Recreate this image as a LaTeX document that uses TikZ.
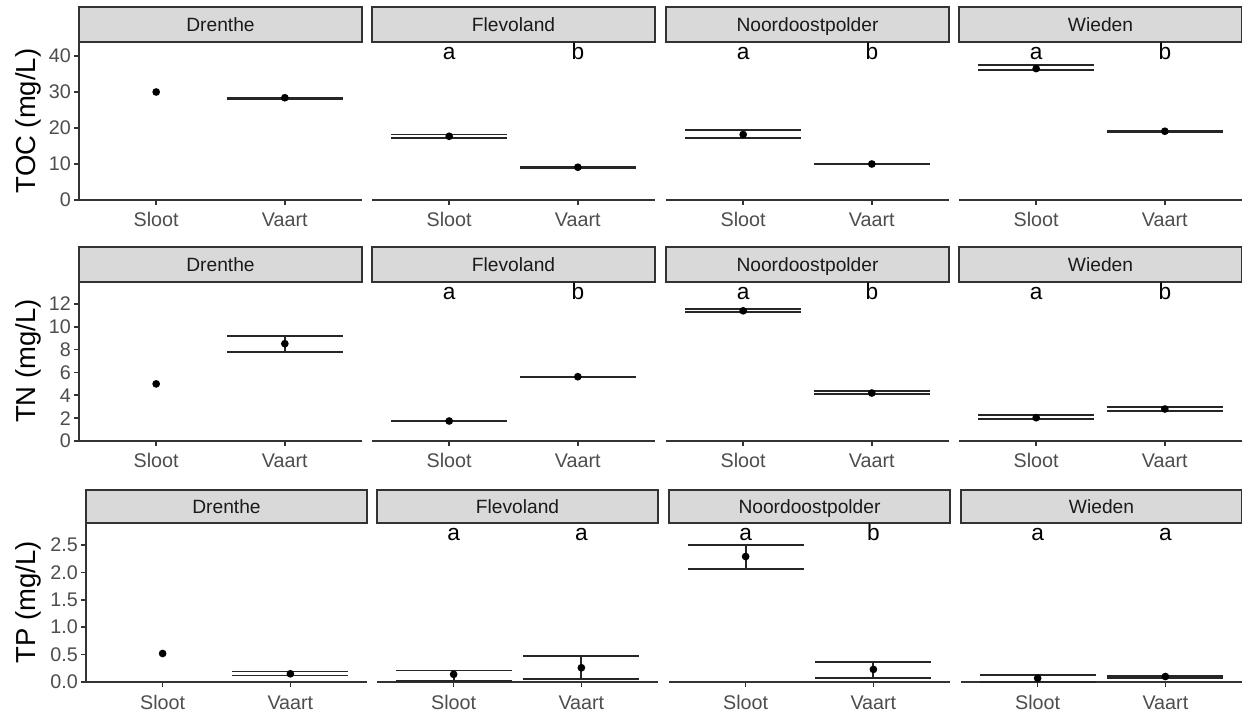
\documentclass[tikz,border=0pt]{standalone}
\usepackage{fontspec}
\setmainfont{Liberation Sans}
\definecolor{stripfill}{HTML}{D9D9D9}
\definecolor{stripline}{HTML}{333333}
\definecolor{axisgrey}{HTML}{333333}
\definecolor{ticktext}{HTML}{4D4D4D}
\definecolor{striptxt}{HTML}{1A1A1A}

% half width of an error bar (0.45 of one category step)
\newcommand\hw{58}
% error bar: #1 x centre, #2 axis y, #3 px per unit, #4 lower, #5 upper
\newcommand\ebar[5]{%
  \draw[errbar] ({#1-\hw},{#2-#3*#4}) -- ({#1+\hw},{#2-#3*#4});
  \draw[errbar] ({#1-\hw},{#2-#3*#5}) -- ({#1+\hw},{#2-#3*#5});
  \draw[errbar] ({#1},{#2-#3*#4}) -- ({#1},{#2-#3*#5});
}
% mean point: #1 x centre, #2 axis y, #3 px per unit, #4 value
\newcommand\mpt[4]{\fill[meanpt] ({#1},{#2-#3*#4}) circle[radius=2.9pt];}
% one facet: #1 name, #2 left x, #3 width, #4 strip top, #5 strip bottom, #6 axis y, #7 title
\newcommand\facet[7]{%
  \pgfmathsetmacro\xs{#2+0.2727*#3}%
  \pgfmathsetmacro\xv{#2+0.7273*#3}%
  \pgfmathsetmacro\xm{#2+0.5*#3}%
  \draw[stripbox] (#2,#4) rectangle ({#2+#3},#5);
  \node[striptext] (#1-strip) at (\xm,{(#4+#5)/2+7}) {#7};
  \draw[axisline] (#2,#6) -- ({#2+#3},#6);
  \draw[axisline] (\xs,#6) -- (\xs,{#6+5});
  \draw[axisline] (\xv,#6) -- (\xv,{#6+5});
  \node[xlab] (#1-sloot) at (\xs,{#6+27}) {Sloot};
  \node[xlab] (#1-vaart) at (\xv,{#6+27}) {Vaart};
}
% y axis: #1 x, #2 top, #3 axis y, #4 px per unit, #5 tick list
\newcommand\yaxis[5]{%
  \draw[axisline] (#1,#2) -- (#1,#3);
  \foreach \t in {#5} {
    \draw[axisline] ({#1-5},{#3-#4*\t}) -- (#1,{#3-#4*\t});
    \node[ylab] (ytick) at ({#1-8},{#3-#4*\t}) {\t};
  }
}

\begin{document}
\begin{tikzpicture}[x=0.75pt,y=-0.75pt,
  stripbox/.style={fill=stripfill,draw=stripline,line width=1.3pt},
  striptext/.style={anchor=base,text=striptxt,font=\fontsize{14.4pt}{16pt}\selectfont},
  axisline/.style={draw=axisgrey,line width=1.25pt},
  xlab/.style={anchor=base,text=ticktext,font=\fontsize{14.8pt}{16pt}\selectfont},
  ylab/.style={anchor=east,text=ticktext,font=\fontsize{14.8pt}{16pt}\selectfont,inner sep=0pt},
  ytitle/.style={anchor=base,rotate=90,font=\fontsize{20.6pt}{24pt}\selectfont},
  sig/.style={anchor=base,font=\fontsize{17pt}{20pt}\selectfont},
  errbar/.style={draw=black!85,line width=1.35pt},
  meanpt/.style={fill=black}]
\useasboundingbox[fill=white] (0,0) rectangle (1242,712);

% ---------------- TOC ----------------
\node[ytitle] (toc) at (35,121) {TOC (mg/L)};
\yaxis{79}{42}{200}{3.6}{0,10,20,30,40}

\facet{tocD}{79}{283}{7}{42}{200}{Drenthe}
\mpt{\xs}{200}{3.6}{30}
\ebar{\xv}{200}{3.6}{28.15}{28.45}\mpt{\xv}{200}{3.6}{28.4}

\facet{tocF}{372}{283}{7}{42}{200}{Flevoland}
\ebar{\xs}{200}{3.6}{17.2}{18.2}\mpt{\xs}{200}{3.6}{17.7}
\ebar{\xv}{200}{3.6}{8.95}{9.25}\mpt{\xv}{200}{3.6}{9.1}
\node[sig] (tocFa) at (\xs,60) {a};
\node[sig] (tocFb) at (\xv,60) {b};

\facet{tocN}{666}{283}{7}{42}{200}{Noordoostpolder}
\ebar{\xs}{200}{3.6}{17.2}{19.4}\mpt{\xs}{200}{3.6}{18.2}
\ebar{\xv}{200}{3.6}{10}{10}\mpt{\xv}{200}{3.6}{10}
\node[sig] (tocNa) at (\xs,60) {a};
\node[sig] (tocNb) at (\xv,60) {b};

\facet{tocW}{959}{283}{7}{42}{200}{Wieden}
\ebar{\xs}{200}{3.6}{36.0}{37.4}\mpt{\xs}{200}{3.6}{36.5}
\ebar{\xv}{200}{3.6}{18.95}{19.25}\mpt{\xv}{200}{3.6}{19.1}
\node[sig] (tocWa) at (\xs,60) {a};
\node[sig] (tocWb) at (\xv,60) {b};

% ---------------- TN ----------------
\node[ytitle] (tn) at (35,361) {TN (mg/L)};
\yaxis{79}{282}{441}{11.42}{0,2,4,6,8,10,12}

\facet{tnD}{79}{283}{247}{282}{441}{Drenthe}
\mpt{\xs}{441}{11.42}{5.0}
\ebar{\xv}{441}{11.42}{7.77}{9.17}\mpt{\xv}{441}{11.42}{8.52}

\facet{tnF}{372}{283}{247}{282}{441}{Flevoland}
\ebar{\xs}{441}{11.42}{1.71}{1.79}\mpt{\xs}{441}{11.42}{1.75}
\ebar{\xv}{441}{11.42}{5.63}{5.63}\mpt{\xv}{441}{11.42}{5.63}
\node[sig] (tnFa) at (\xs,300) {a};
\node[sig] (tnFb) at (\xv,300) {b};

\facet{tnN}{666}{283}{247}{282}{441}{Noordoostpolder}
\ebar{\xs}{441}{11.42}{11.3}{11.53}\mpt{\xs}{441}{11.42}{11.4}
\ebar{\xv}{441}{11.42}{4.09}{4.38}\mpt{\xv}{441}{11.42}{4.2}
\node[sig] (tnNa) at (\xs,300) {a};
\node[sig] (tnNb) at (\xv,300) {b};

\facet{tnW}{959}{283}{247}{282}{441}{Wieden}
\ebar{\xs}{441}{11.42}{1.9}{2.25}\mpt{\xs}{441}{11.42}{2.04}
\ebar{\xv}{441}{11.42}{2.65}{3.0}\mpt{\xv}{441}{11.42}{2.8}
\node[sig] (tnWa) at (\xs,300) {a};
\node[sig] (tnWb) at (\xv,300) {b};

% ---------------- TP ----------------
\node[ytitle] (tp) at (36,602) {TP (mg/L)};
\yaxis{86}{523}{682}{54.8}{0.0,0.5,1.0,1.5,2.0,2.5}

\facet{tpD}{86}{281}{490}{523}{682}{Drenthe}
\mpt{\xs}{682}{54.8}{0.52}
\ebar{\xv}{682}{54.8}{0.12}{0.19}\mpt{\xv}{682}{54.8}{0.15}

\facet{tpF}{377}{281}{490}{523}{682}{Flevoland}
\ebar{\xs}{682}{54.8}{0.015}{0.21}\mpt{\xs}{682}{54.8}{0.14}
\ebar{\xv}{682}{54.8}{0.05}{0.47}\mpt{\xv}{682}{54.8}{0.26}
\node[sig] (tpFa) at (\xs,540) {a};
\node[sig] (tpFb) at (\xv,540) {a};

\facet{tpN}{669}{281}{490}{523}{682}{Noordoostpolder}
\ebar{\xs}{682}{54.8}{2.06}{2.5}\mpt{\xs}{682}{54.8}{2.29}
\ebar{\xv}{682}{54.8}{0.07}{0.36}\mpt{\xv}{682}{54.8}{0.23}
\node[sig] (tpNa) at (\xs,540) {a};
\node[sig] (tpNb) at (\xv,540) {b};

\facet{tpW}{961}{281}{490}{523}{682}{Wieden}
\ebar{\xs}{682}{54.8}{0.0}{0.13}\mpt{\xs}{682}{54.8}{0.07}
\ebar{\xv}{682}{54.8}{0.08}{0.11}\mpt{\xv}{682}{54.8}{0.1}
\node[sig] (tpWa) at (\xs,540) {a};
\node[sig] (tpWb) at (\xv,540) {a};
\end{tikzpicture}
\end{document}
